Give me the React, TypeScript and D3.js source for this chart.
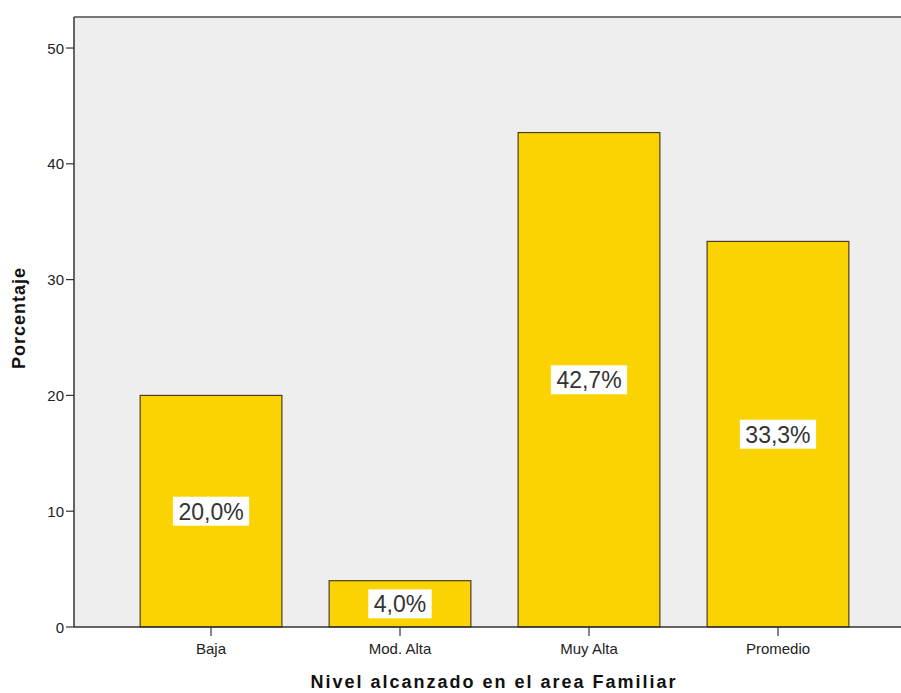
import React from "react";
import * as d3 from "d3";

const categories = ["Baja", "Mod. Alta", "Muy Alta", "Promedio"];
const values = [20.0, 4.0, 42.7, 33.3];
const yTicks = [0, 10, 20, 30, 40, 50];

const W = 901, H = 693;
const left = 74, top = 17, bottom = 627, rightEnd = 915;

const charW = (ch: string) => (ch === "," ? 0.278 : ch === "%" ? 0.889 : 0.556);

export default function App() {
  const x = d3.scaleBand<string>().domain(categories).range([left, rightEnd]).paddingInner(0.25).paddingOuter(0.35);
  const y = d3.scaleLinear().domain([0, 52.68]).range([bottom, top]);
  const fmt = (v: number) => v.toFixed(1).replace(".", ",") + "%";
  const fs = 23;
  return (
    <svg width={W} height={H} style={{ position: "absolute", left: 0, top: 0, background: "#fff" }} fontFamily="Arial, 'Liberation Sans', sans-serif">
      <rect x={left} y={top} width={W - left} height={bottom - top} fill="#eeeeee" />
      <line x1={left} x2={W} y1={top} y2={top} stroke="#777" strokeWidth={2} />
      {categories.map((c, i) => {
        const bx = x(c)!;
        const bw = x.bandwidth();
        const by = y(values[i]);
        return (
          <rect key={c} x={bx} y={by} width={bw} height={bottom - by} fill="#fcd302" stroke="#4a4020" strokeWidth={1.2} />
        );
      })}
      {categories.map((c, i) => {
        const cx = x(c)! + x.bandwidth() / 2;
        const cy = (y(values[i]) + bottom) / 2;
        const t = fmt(values[i]);
        const tw = t.split("").reduce((s, ch) => s + charW(ch), 0) * fs + 11;
        return (
          <g key={c + "l"}>
            <rect x={cx - tw / 2} y={cy - 14.5} width={tw} height={29} fill="#fff" />
            <text x={cx} y={cy + 8.5} textAnchor="middle" fontSize={fs} fill="#333">{t}</text>
          </g>
        );
      })}
      <line x1={left} x2={left} y1={top} y2={bottom} stroke="#333" strokeWidth={1.5} />
      <line x1={left} x2={W} y1={bottom} y2={bottom} stroke="#333" strokeWidth={1.5} />
      {yTicks.map((t) => (
        <g key={t}>
          <line x1={left - 8} x2={left} y1={y(t)} y2={y(t)} stroke="#333" strokeWidth={1.2} />
          <text x={left - 10} y={y(t) + 5.5} textAnchor="end" fontSize={15} fill="#222">{t}</text>
        </g>
      ))}
      {categories.map((c) => {
        const cx = x(c)! + x.bandwidth() / 2;
        return (
          <g key={c + "t"}>
            <line x1={cx} x2={cx} y1={bottom} y2={bottom + 9} stroke="#333" strokeWidth={1.2} />
            <text x={cx} y={bottom + 27} textAnchor="middle" fontSize={15} fill="#222">{c}</text>
          </g>
        );
      })}
      <text x={494} y={688} textAnchor="middle" fontSize={18} fontWeight="bold" fill="#111" letterSpacing={2}>Nivel alcanzado en el area Familiar</text>
      <text transform={`translate(25,${318}) rotate(-90)`} textAnchor="middle" fontSize={18} fontWeight="bold" fill="#111" letterSpacing={1}>Porcentaje</text>
    </svg>
  );
}
